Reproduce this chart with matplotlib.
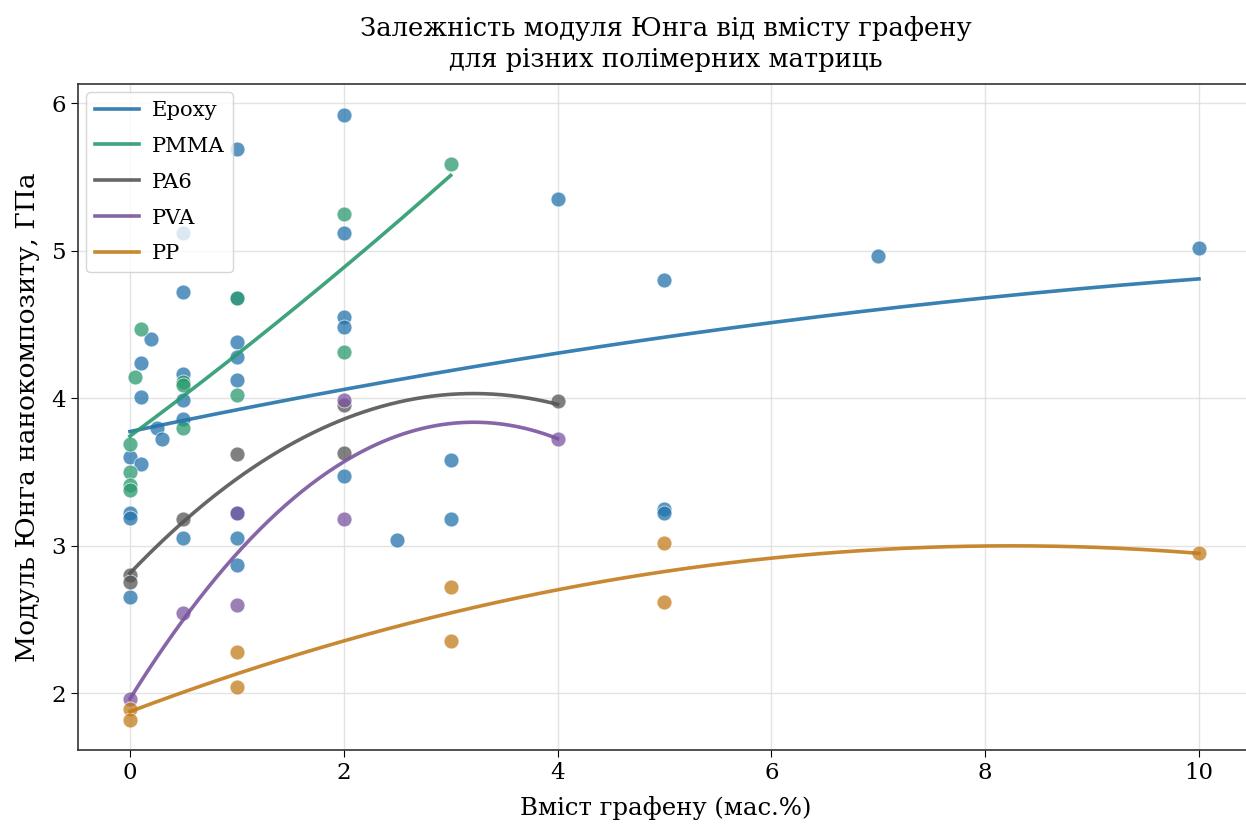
import numpy as np
import matplotlib
matplotlib.use("Agg")
import matplotlib.pyplot as plt

plt.rcParams['font.family'] = ['DejaVu Serif']

# ---- data ----
groups = ["Epoxy", "PMMA", "PA6", "PVA", "PP"]

epoxy_x = [0, 0, 0, 0, 0.1, 0.1, 0.1, 0.2, 0.25, 0.3,
           0.5, 0.5, 0.5, 0.5, 0.5, 0.5,
           1, 1, 1, 1, 1, 1, 1, 1,
           2, 2, 2, 2, 2, 2.5, 3, 3, 4, 5, 5, 5, 7, 10]
epoxy_y = [3.60, 3.22, 3.19, 2.65, 4.24, 4.01, 3.55, 4.40, 3.80, 3.72,
           5.12, 4.72, 4.16, 3.99, 3.86, 3.05,
           5.69, 4.68, 4.38, 4.28, 4.12, 3.22, 3.05, 2.87,
           5.92, 5.12, 4.55, 4.48, 3.47, 3.04, 3.58, 3.18, 5.35, 4.80, 3.25, 3.22, 4.96, 5.02]

pmma_x = [0, 0, 0, 0, 0.05, 0.1, 0.5, 0.5, 0.5, 1, 1, 2, 2, 3]
pmma_y = [3.69, 3.50, 3.41, 3.38, 4.14, 4.47, 4.11, 4.09, 3.80, 4.68, 4.02, 5.25, 4.31, 5.59]

pa6_x = [0, 0, 0.5, 1, 2, 2, 4]
pa6_y = [2.80, 2.75, 3.18, 3.62, 3.95, 3.63, 3.98]

pva_x = [0, 0.5, 1, 1, 2, 2, 4]
pva_y = [1.96, 2.54, 3.22, 2.60, 3.99, 3.18, 3.72]

pp_x = [0, 0, 1, 1, 3, 3, 5, 5, 10]
pp_y = [1.89, 1.82, 2.28, 2.04, 2.72, 2.35, 3.02, 2.62, 2.95]

# Epoxy trend line (its own fit differs from the visible points)
epoxy_trend_x = [0, 2, 4, 6, 8, 10]
epoxy_trend_y = [3.776, 4.05, 4.31, 4.51, 4.68, 4.807]

colors = ["#2373aa", "#2a9a6e", "#555555", "#7a559f", "#c27c1c"]

xs = [epoxy_x, pmma_x, pa6_x, pva_x, pp_x]
ys = [epoxy_y, pmma_y, pa6_y, pva_y, pp_y]
trend_src = [(epoxy_trend_x, epoxy_trend_y), None, None, None, None]

fig = plt.figure(figsize=(12.46, 8.27), dpi=100)
ax = fig.add_axes([78/1246, 77/827, 1176/1246, 666/827])

for name, x, y, c in zip(groups, xs, ys, colors):
    ax.scatter(x, y, s=115, color=c, alpha=0.75, edgecolor='white', linewidth=0.6, zorder=2)

for name, x, y, c, tr in zip(groups, xs, ys, colors, trend_src):
    x = np.asarray(x, float)
    y = np.asarray(y, float)
    fx, fy = (x, y) if tr is None else (np.asarray(tr[0], float), np.asarray(tr[1], float))
    coef = np.polyfit(fx, fy, 2)
    xf = np.linspace(x.min(), x.max(), 200)
    ax.plot(xf, np.polyval(coef, xf), color=c, lw=2.6, alpha=0.9, label=name, zorder=3)

ax.set_xlim(-0.486, 10.515)
ax.set_ylim(1.614, 6.129)
ax.set_xticks([0, 2, 4, 6, 8, 10])
ax.set_yticks([2, 3, 4, 5, 6])
ax.tick_params(labelsize=16.5, length=5)
ax.grid(True, color='#dddddd', lw=1.0, alpha=0.8)
ax.set_axisbelow(True)
for sp in ax.spines.values():
    sp.set_color('#333333')
    sp.set_linewidth(1.2)

ax.set_xlabel("Вміст графену (мас.%)", fontsize=17.6, labelpad=9)
ax.set_ylabel("Модуль Юнга нанокомпозиту, ГПа", fontsize=19, labelpad=8)
ax.set_title("Залежність модуля Юнга від вмісту графену\nдля різних полімерних матриць",
             fontsize=18.6, pad=12, linespacing=1.3)

ax.legend(loc='upper left', fontsize=15.2, frameon=True, framealpha=0.8,
          edgecolor='#cccccc', borderaxespad=0.4, labelspacing=0.8,
          handlelength=2.1, handletextpad=0.6)

fig.savefig("out.png", dpi=100)
